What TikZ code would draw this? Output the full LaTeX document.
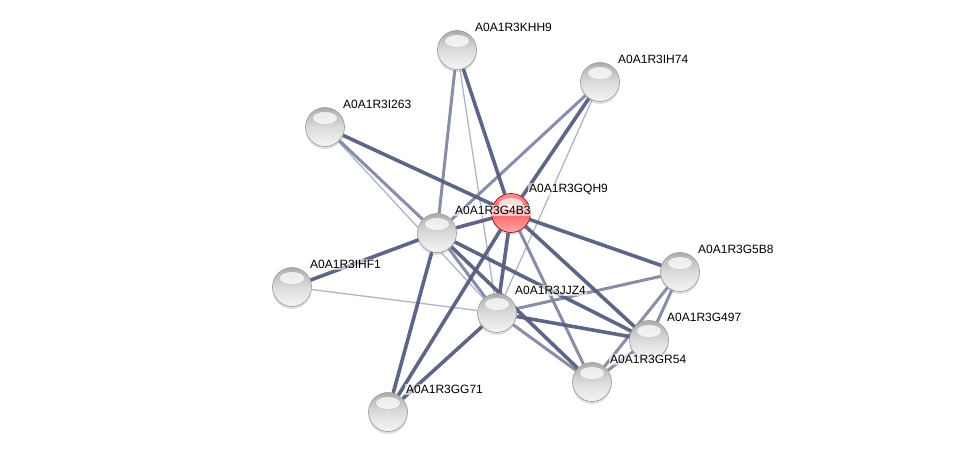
\documentclass[tikz,border=0pt]{standalone}
\usepackage{fontspec}
\setmainfont{Liberation Sans}
\usetikzlibrary{positioning, shadows, backgrounds}
\definecolor{edgedark}{RGB}{86,94,126}
\definecolor{edgemid}{RGB}{124,130,158}
\definecolor{edgelight}{RGB}{176,180,200}

\begin{document}
\begin{tikzpicture}[x=1pt, y=-1pt,
    ball/.style={circle, minimum size=39pt, inner sep=0pt, draw=gray!80, line width=0.6pt,
        top color=gray!65, bottom color=gray!8, middle color=gray!28,
        drop shadow={opacity=0.25, shadow xshift=0pt, shadow yshift=-2.5pt},
        path picture={\fill[white, opacity=0.75] ([yshift=9pt]path picture bounding box.center) ellipse (12pt and 6pt);}},
    query/.style={ball, draw=red!50!black, top color=red!45, bottom color=red!35, middle color=red!60},
    lbl/.style={font=\fontsize{12}{14}\selectfont, inner sep=1pt, fill=white, fill opacity=0.6, text opacity=1},
    strong/.style={line width=3.6pt, draw=edgedark, opacity=0.95},
    medium/.style={line width=3pt, draw=edgemid, opacity=0.9},
    weak/.style={line width=1.3pt, draw=edgelight}
]
    \useasboundingbox (0,0) rectangle (976,457);

    \node[ball] (khh9) at (457,50) {};
    \node[ball] (ih74) at (600,82) {};
    \node[ball] (i263) at (325,127) {};
    \node[query] (gqh9) at (511,213) {};
    \node[ball] (g4b3) at (437,233) {};
    \node[ball] (ihf1) at (292,287) {};
    \node[ball] (g5b8) at (680,272) {};
    \node[ball] (jjz4) at (497,313) {};
    \node[ball] (g497) at (649,340) {};
    \node[ball] (gr54) at (592,382) {};
    \node[ball] (gg71) at (388,412) {};

    % labels
    \node[lbl, above right=3pt and 3pt of khh9] (khh9Lbl) {A0A1R3KHH9};
    \node[lbl, above right=3pt and 3pt of ih74] (ih74Lbl) {A0A1R3IH74};
    \node[lbl, above right=3pt and 3pt of i263] (i263Lbl) {A0A1R3I263};
    \node[lbl, above right=3pt and 3pt of gqh9] (gqh9Lbl) {A0A1R3GQH9};
    \node[lbl, above right=3pt and 3pt of g4b3] (g4b3Lbl) {A0A1R3G4B3};
    \node[lbl, above right=3pt and 3pt of ihf1] (ihf1Lbl) {A0A1R3IHF1};
    \node[lbl, above right=3pt and 3pt of g5b8] (g5b8Lbl) {A0A1R3G5B8};
    \node[lbl, above right=3pt and 3pt of jjz4] (jjz4Lbl) {A0A1R3JJZ4};
    \node[lbl, above right=3pt and 3pt of g497] (g497Lbl) {A0A1R3G497};
    \node[lbl, above right=3pt and 3pt of gr54] (gr54Lbl) {A0A1R3GR54};
    \node[lbl, above right=3pt and 3pt of gg71] (gg71Lbl) {A0A1R3GG71};

    % edges
    \begin{pgfonlayer}{background}
        \draw[weak] (khh9) -- (jjz4);
        \draw[weak] (ih74) -- (jjz4);
        \draw[weak] (i263) -- (jjz4);
        \draw[weak] (ihf1) -- (jjz4);

        \draw[medium] (khh9) -- (g4b3);
        \draw[medium] (ih74) -- (g4b3);
        \draw[medium] (i263) -- (g4b3);
        \draw[medium] (g4b3) -- (jjz4);
        \draw[medium] (gqh9) -- (gr54);
        \draw[medium] (jjz4) -- (g5b8);
        \draw[medium] (jjz4) -- (gr54);
        \draw[medium] (g5b8) -- (g497);
        \draw[medium] (g5b8) -- (gr54);
        \draw[medium] (g497) -- (gr54);

        \draw[strong] (khh9) -- (gqh9);
        \draw[strong] (i263) -- (gqh9);
        \draw[strong] (ih74) -- (gqh9);
        \draw[strong] (g4b3) -- (gqh9);
        \draw[strong] (ihf1) -- (g4b3);
        \draw[strong] (gqh9) -- (jjz4);
        \draw[strong] (gqh9) -- (g5b8);
        \draw[strong] (gqh9) -- (g497);
        \draw[strong] (jjz4) -- (g497);
        \draw[strong] (g4b3) -- (g497);
        \draw[strong] (g4b3) -- (gr54);
        \draw[strong] (gqh9) -- (gg71);
        \draw[strong] (g4b3) -- (gg71);
        \draw[strong] (jjz4) -- (gg71);
    \end{pgfonlayer}
\end{tikzpicture}
\end{document}
